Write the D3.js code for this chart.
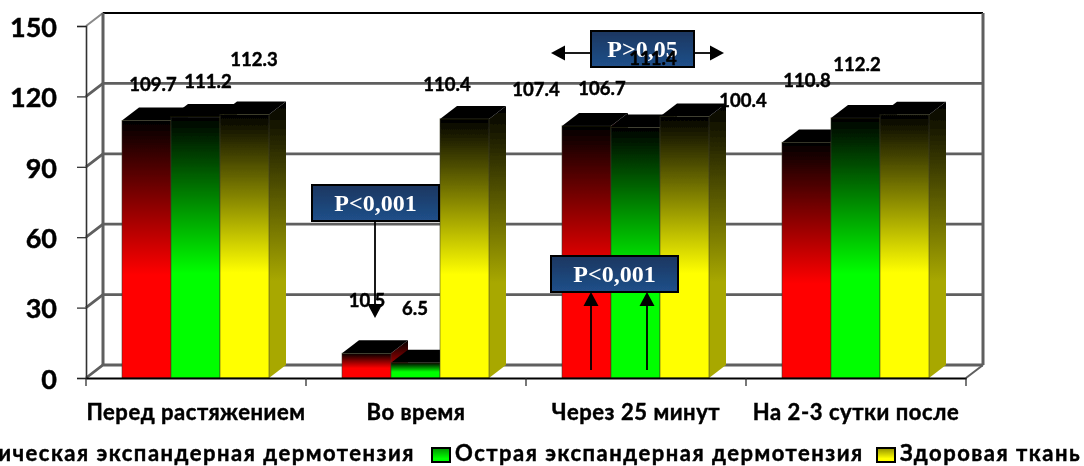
<!DOCTYPE html>
<html><head><meta charset="utf-8">
<script src="https://cdn.jsdelivr.net/npm/d3@7"></script>
<style>html,body{margin:0;padding:0;background:#fff;overflow:hidden}svg{display:block}text{font-family:Lato,sans-serif;font-weight:700;fill:#000;stroke:#000;stroke-width:.45px}</style>
</head><body><svg id="c" width="1084" height="466"></svg>
<script>
const categories=["Перед растяжением","Во время","Через 25 минут","На 2-3 сутки после"];
const seriesNames=["Хроническая экспандерная дермотензия","Острая экспандерная дермотензия","Здоровая ткань"];
const chronic=[109.7,10.5,107.4,100.4];
const acute=[111.2,6.5,106.7,110.8];
const healthy=[112.3,110.4,111.4,112.2];
const yTicks=[0,30,60,90,120,150];
const seriesValues=[chronic,acute,healthy];
const brights=["#ff0000","#00ff00","#ffff00"];
const sides=["#a80000","#00a000","#a8a800"];

const svg=d3.select("#c");
const defs=svg.append("defs");
const dx=17,dy=-13;
const y=d3.scaleLinear().domain([0,150]).range([378,26]);
const x0=d3.scaleBand().domain(categories).range([86,966]);
const x1=d3.scaleBand().domain(d3.range(3)).range([36,183]);
const soft=defs.append("filter").attr("id","soft").attr("filterUnits","userSpaceOnUse").attr("x",-50).attr("y",0).attr("width",1184).attr("height",466);
soft.append("feGaussianBlur").attr("stdDeviation",0.7);
const softT=defs.append("filter").attr("id","softT").attr("filterUnits","userSpaceOnUse").attr("x",-400).attr("y",0).attr("width",1600).attr("height",466);
softT.append("feGaussianBlur").attr("stdDeviation",0.35);
brights.forEach((c,i)=>{
  const g=defs.append("linearGradient").attr("id","f"+i).attr("x1",0).attr("y1",0).attr("x2",0).attr("y2",1);
  g.append("stop").attr("offset",0).attr("stop-color","#000");
  g.append("stop").attr("offset",0.6).attr("stop-color",c);
  g.append("stop").attr("offset",1).attr("stop-color",c);
  const s=defs.append("linearGradient").attr("id","s"+i).attr("x1",0).attr("y1",0).attr("x2",0).attr("y2",1);
  s.append("stop").attr("offset",0).attr("stop-color","#000");
  s.append("stop").attr("offset",0.65).attr("stop-color",sides[i]);
  s.append("stop").attr("offset",1).attr("stop-color",sides[i]);
});
const root=svg.append("g").attr("filter","url(#soft)");
// walls and gridlines
const xL=x0.range()[0],xR=x0.range()[1];
const grid=root.append("g");
const gridPath=v=>d3.line()([[xL,y(v)],[xL+dx,y(v)+dy],[xR+dx,y(v)+dy]]);
grid.selectAll("path").data(yTicks.filter(v=>v<150)).join("path")
  .attr("d",gridPath).attr("fill","none").attr("stroke","#5e5e5e").attr("stroke-width",2.8);
grid.append("path").attr("d",gridPath(150)).attr("fill","none").attr("stroke","#8a8a8a").attr("stroke-width",2);
grid.append("line").attr("x1",xL+dx).attr("x2",xR+dx).attr("y1",y(150)+dy).attr("y2",y(150)+dy).attr("stroke","#000").attr("stroke-width",2);
grid.append("line").attr("x1",xL+dx).attr("x2",xL+dx).attr("y1",y(150)+dy).attr("y2",y(0)+dy).attr("stroke","#5e5e5e").attr("stroke-width",3);
grid.append("line").attr("x1",xR+dx).attr("x2",xR+dx).attr("y1",y(150)+dy).attr("y2",y(0)+dy).attr("stroke","#5e5e5e").attr("stroke-width",3);
grid.append("line").attr("x1",xR).attr("x2",xR+dx).attr("y1",y(0)).attr("y2",y(0)+dy).attr("stroke","#5e5e5e").attr("stroke-width",2);
// bars
const bars=root.append("g");
categories.forEach((cat,ci)=>{
  seriesValues.forEach((vals,si)=>{
    const bx=x0(cat)+x1(si),bw=x1.bandwidth(),top=y(vals[ci]),base=y(0);
    const g=bars.append("g");
    g.append("path").attr("d",d3.line()([[bx+bw,top],[bx+bw+dx,top+dy],[bx+bw+dx,base+dy],[bx+bw,base]])+"Z").attr("fill",`url(#s${si})`);
    g.append("path").attr("d",d3.line()([[bx,top],[bx+dx,top+dy],[bx+bw+dx,top+dy],[bx+bw,top]])+"Z").attr("fill","#000");
    g.append("rect").attr("x",bx).attr("y",top).attr("width",bw).attr("height",base-top).attr("fill",`url(#f${si})`).attr("stroke","#3a3a1a").attr("stroke-opacity",.55).attr("stroke-width",1);
  });
});
const textLayer=svg.append("g").attr("filter","url(#softT)");
// axes
const yAxis=d3.axisLeft(y).tickValues(yTicks).tickSize(9).tickPadding(12);
const ay=textLayer.append("g").attr("transform",`translate(${xL},0)`).call(yAxis);
ay.select(".domain").attr("stroke","#333").attr("stroke-width",1.6);
ay.selectAll("line").attr("stroke","#222").attr("stroke-width",1.2);
ay.selectAll("text").attr("font-size",27).attr("dx",-8).attr("dy","0.38em");
const xAxis=d3.axisBottom(x0).tickSize(0).tickPadding(26);
const ax=textLayer.append("g").attr("transform",`translate(0,${y(0)})`).call(xAxis);
ax.select(".domain").attr("stroke","#000").attr("stroke-width",1.8);
ax.selectAll("text").attr("font-size",22).attr("letter-spacing",.55);
textLayer.append("g").selectAll("line").data(d3.range(5)).join("line")
  .attr("x1",i=>xL+i*x0.bandwidth()).attr("x2",i=>xL+i*x0.bandwidth())
  .attr("y1",y(0)).attr("y2",y(0)+8).attr("stroke","#222").attr("stroke-width",1.2);
// legend
const lg=textLayer.append("g");
const lgItems=[{t:seriesNames[0],end:415,sw:-20},{t:seriesNames[1],start:455,sw:432},{t:seriesNames[2],start:900,sw:877}];
lgItems.forEach((d,i)=>{
  lg.append("rect").attr("x",d.sw).attr("y",448).attr("width",18).attr("height",14).attr("fill",`url(#lg${i})`).attr("stroke","#000").attr("stroke-width",2);
  const t=lg.append("text").attr("y",461).attr("font-size",22).attr("letter-spacing",1.5).text(d.t);
  if(d.end) t.attr("x",d.end).attr("text-anchor","end"); else t.attr("x",d.start);
  const g=defs.append("linearGradient").attr("id","lg"+i).attr("x1",0).attr("y1",0).attr("x2",0).attr("y2",1);
  g.append("stop").attr("offset",0).attr("stop-color",d3.color(brights[i]).darker(1.6));
  g.append("stop").attr("offset",.75).attr("stop-color",brights[i]);
});
// annotations
const pg=defs.append("linearGradient").attr("id","pbox").attr("x1",0).attr("y1",0).attr("x2",0).attr("y2",1);
pg.append("stop").attr("offset",0).attr("stop-color","#1b3660");pg.append("stop").attr("offset",1).attr("stop-color","#20508a");
const ann=textLayer.append("g");
function arrow(x1a,y1a,x2a,y2a){
  const ang=Math.atan2(y2a-y1a,x2a-x1a),L=14,W=7.5;
  const bx=x2a-L*Math.cos(ang),by=y2a-L*Math.sin(ang);
  ann.append("line").attr("x1",x1a).attr("y1",y1a).attr("x2",bx).attr("y2",by).attr("stroke","#000").attr("stroke-width",1.8);
  ann.append("path").attr("d",d3.line()([[x2a,y2a],[bx-W*Math.sin(ang),by+W*Math.cos(ang)],[bx+W*Math.sin(ang),by-W*Math.cos(ang)]])+"Z").attr("fill","#000");
}
arrow(375,222,375,318);
arrow(591,370,591,292);
arrow(647,370,647,292);
arrow(595,53,551,53);
arrow(692,53,724,53);
function pbox(px,py,w,h,t){
  ann.append("rect").attr("x",px).attr("y",py).attr("width",w).attr("height",h).attr("fill","url(#pbox)").attr("stroke","#000").attr("stroke-width",2);
  ann.append("text").attr("x",px+w/2).attr("y",py+h/2+8).attr("text-anchor","middle").attr("font-size",24)
    .style("font-family","'Liberation Serif',serif").style("fill","#fff").style("stroke","none").text(t);
}
pbox(312,185,127,36,"P<0,001");
pbox(551,256,127,36,"P<0,001");
pbox(591,31,103,36,"P>0,05");
// data labels (hand-placed in the original chart)
const labelOffsets=[
 [[6.5,-29.6],[12.5,-29],[9.5,-48.5]],
 [[0.5,-46.4],[-0.5,-47.7],[-17.5,-27.9]],
 [[-50.5,-30],[-33.5,-32.6],[-31.5,-51.6]],
 [[-63.5,-35.4],[-48.5,-31],[-47.5,-43.7]]];
const labels=textLayer.append("g");
categories.forEach((cat,ci)=>seriesValues.forEach((vals,si)=>{
  const o=labelOffsets[ci][si];
  labels.append("text").attr("x",x0(cat)+x1(si)+x1.bandwidth()/2+o[0]).attr("y",y(vals[ci])+o[1])
   .attr("text-anchor","middle").attr("font-size",18.5).text(vals[ci].toFixed(1));
}));
</script></body></html>
